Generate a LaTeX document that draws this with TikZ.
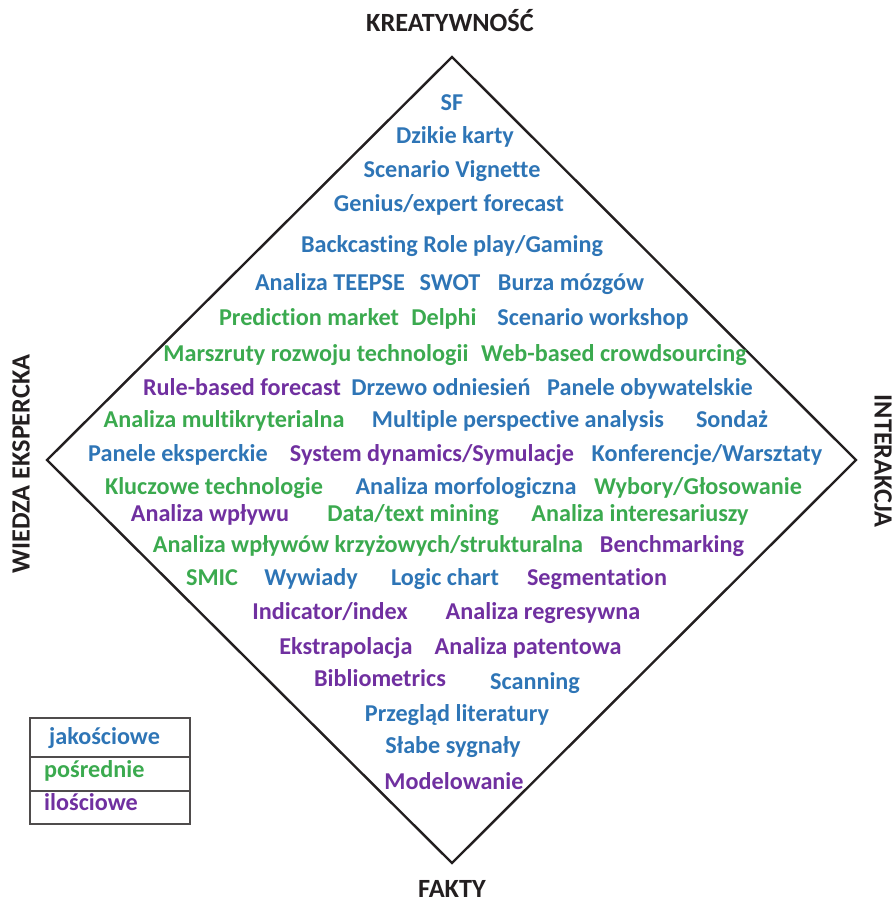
\documentclass[tikz,border=0pt]{standalone}
\usepackage{fontspec}
\setmainfont{Carlito}[Ligatures={NoCommon}]
\definecolor{cblue}{RGB}{46,117,182}
\definecolor{cgreen}{RGB}{59,170,79}
\definecolor{cpurple}{RGB}{112,48,160}
\definecolor{cdark}{RGB}{35,31,32}
\begin{document}
\begin{tikzpicture}[x=1pt,y=-1pt,
  item/.style={font=\bfseries\fontsize{24.2}{28}\selectfont, inner sep=0pt, text height=17pt, text depth=5pt},
  blu/.style={item,text=cblue},
  grn/.style={item,text=cgreen},
  pur/.style={item,text=cpurple},
  axislabel/.style={font=\bfseries\fontsize{26.3}{30}\selectfont, text=cdark, inner sep=0pt, text height=18pt, text depth=1pt},
  legendtext/.style={item, anchor=west}]
\useasboundingbox (0,0) rectangle (896,906);
% diamond
\coordinate (T) at (452,57);
\coordinate (R) at (856,460);
\coordinate (B) at (452,863);
\coordinate (L) at (47,460);
\draw[line width=2.4pt, cdark, line join=miter] (T) -- (R) -- (B) -- (L) -- cycle;
% axis labels
\node[axislabel] (kre) at (450,23) {KREATYWNOŚĆ};
\node[axislabel] (fak) at (452,889) {FAKTY};
\node[axislabel, rotate=90] (wie) at (21,464) {WIEDZA EKSPERCKA};
\node[axislabel, rotate=-90] (int) at (883,461) {INTERAKCJA};
% items
\node[blu] (sf) at (452,104) {SF};
\node[blu] (dk) at (455,137) {Dzikie karty};
\node[blu] (sv) at (452,171) {Scenario Vignette};
\node[blu] (ge) at (449,205) {Genius/expert forecast};
\node[blu] (bc) at (452,246) {Backcasting Role play/Gaming};
\node[blu] (te) at (330,284) {Analiza TEEPSE};
\node[blu] (sw) at (450,284) {SWOT};
\node[blu] (bm) at (571,284) {Burza mózgów};
\node[grn] (pm) at (309,319) {Prediction market};
\node[grn] (de) at (444,319) {Delphi};
\node[blu] (sws) at (593,319) {Scenario workshop};
\node[grn] (ma) at (316,355) {Marszruty rozwoju technologii};
\node[grn] (wb) at (614,355) {Web-based crowdsourcing};
\node[pur] (rb) at (242,389) {Rule-based forecast};
\node[blu] (dz) at (441,389) {Drzewo odniesień};
\node[blu] (po) at (650,389) {Panele obywatelskie};
\node[grn] (am) at (224,421) {Analiza multikryterialna};
\node[blu] (mp) at (518,421) {Multiple perspective analysis};
\node[blu] (so) at (732,421) {Sondaż};
\node[blu] (pe) at (178,455) {Panele eksperckie};
\node[pur] (sd) at (432,455) {System dynamics/Symulacje};
\node[blu] (kw) at (707,455) {Konferencje/Warsztaty};
\node[grn] (kt) at (214,488) {Kluczowe technologie};
\node[blu] (amo) at (466,488) {Analiza morfologiczna};
\node[grn] (wg) at (698,488) {Wybory/Głosowanie};
\node[pur] (aw) at (210,515) {Analiza wpływu};
\node[grn] (dt) at (413,515) {Data/text mining};
\node[grn] (ai) at (640,515) {Analiza interesariuszy};
\node[grn] (ak) at (368,546) {Analiza wpływów krzyżowych/strukturalna};
\node[pur] (be) at (672,546) {Benchmarking};
\node[grn] (sm) at (212,579) {SMIC};
\node[blu] (wy) at (311,579) {Wywiady};
\node[blu] (lc) at (445,579) {Logic chart};
\node[pur] (se) at (597,579) {Segmentation};
\node[pur] (ii) at (330,613) {Indicator/index};
\node[pur] (ar) at (543,613) {Analiza regresywna};
\node[pur] (ek) at (346,648) {Ekstrapolacja};
\node[pur] (ap) at (528,648) {Analiza patentowa};
\node[pur] (bi) at (380,680) {Bibliometrics};
\node[blu] (sc) at (535,683) {Scanning};
\node[blu] (pl) at (457,715) {Przegląd literatury};
\node[blu] (ss) at (453,747) {Słabe sygnały};
\node[pur] (mo) at (454,783) {Modelowanie};
% legend
\draw[line width=1.2pt, cdark!80] (30,718) rectangle (190,824);
\draw[line width=1.2pt, cdark!80] (30,757) -- (190,757);
\draw[line width=1.2pt, cdark!80] (30,791) -- (190,791);
\node[legendtext, text=cblue] (lj) at (49,738) {jakościowe};
\node[legendtext, text=cgreen] (lp) at (44,771) {pośrednie};
\node[legendtext, text=cpurple] (li) at (44,804) {ilościowe};
\end{tikzpicture}
\end{document}
